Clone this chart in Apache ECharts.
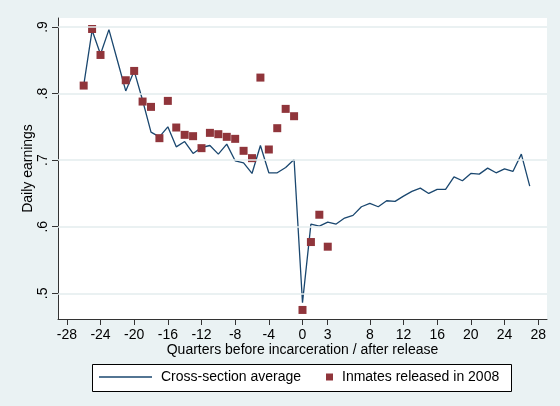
<!DOCTYPE html>
<html>
<head>
<meta charset="utf-8">
<script src="https://cdn.jsdelivr.net/npm/echarts@6/dist/echarts.min.js"></script>
<style>
  html, body { margin: 0; padding: 0; background: #eaf2f3; }
  #chart { width: 560px; height: 406px; }
</style>
</head>
<body>
<div id="chart"></div>
<script>
// quarters relative to incarceration (negative) / release (positive)
const avgQuarters = [-26, -25, -24, -23, -22, -21, -20, -19, -18, -17, -16, -15, -14, -13, -12, -11, -10, -9, -8, -7, -6, -5, -4, -3, -2, -1,
  0, 1, 2, 3, 4, 5, 6, 7, 8, 9, 10, 11, 12, 13, 14, 15, 16, 17, 18, 19, 20, 21, 22, 23, 24, 25, 26, 27];
const avgEarnings = [.812, .895, .859, .896, .850, .804, .834, .790, .742, .735, .750, .720, .728, .710, .719, .722, .709, .724, .699, .696, .680, .722, .681, .681, .689, .701,
  .486, .604, .601, .607, .604, .613, .617, .630, .635, .630, .639, .638, .646, .653, .658, .650, .656, .656, .675, .669, .680, .679, .688, .681, .687, .683, .709, .661];

const inmQuarters = [-26, -25, -24, -21, -20, -19, -18, -17, -16, -15, -14, -13, -12, -11, -10, -9, -8, -7, -6, -5, -4, -3, -2, -1, 0, 1, 2, 3];
const inmEarnings = [.812, .897, .858, .820, .834, .788, .780, .733, .789, .749, .738, .736, .718, .741, .739, .735, .732, .714, .703, .824, .716, .748, .777, .766, .475, .577, .618, .570];

const xTicks = [-28, -24, -20, -16, -12, -8, -4, 0, 3, 8, 12, 16, 20, 24, 28];
const yTicks = [.5, .6, .7, .8, .9];

const seriesNames = ['Cross-section average', 'Inmates released in 2008'];

const font = '"Liberation Sans", Arial, Helvetica, sans-serif';
const navy = '#1a476f';
const maroon = '#90353b';
const gridCol = '#e3ecee';

let chart = echarts.init(document.getElementById('chart'));

chart.setOption({
    backgroundColor: '#eaf2f3',
    animation: false,
    textStyle: { fontFamily: font },
    grid: {
        left: 58, right: 13, top: 18, bottom: 87,
        show: true, backgroundColor: '#ffffff', borderWidth: 0
    },
    xAxis: {
        type: 'value',
        min: -29.05, max: 29.05,
        name: 'Quarters before incarceration / after release',
        nameLocation: 'middle',
        nameGap: 24,
        nameMoveOverlap: false,
        nameTextStyle: { fontSize: 14, color: '#000', fontFamily: font },
        axisLine: { show: true, onZero: false, lineStyle: { color: '#333', width: 1 } },
        axisTick: { show: true, length: 6, customValues: xTicks, lineStyle: { color: '#333' } },
        axisLabel: { customValues: xTicks, fontSize: 14, color: '#000', margin: 9, fontFamily: font },
        splitLine: { show: false }
    },
    yAxis: {
        type: 'value',
        min: 0.4614, max: 0.9135,
        name: 'Daily earnings',
        nameLocation: 'middle',
        nameRotate: 90,
        nameGap: 23,
        nameMoveOverlap: false,
        nameTextStyle: { fontSize: 14, color: '#000', fontFamily: font },
        axisLine: { show: true, onZero: false, lineStyle: { color: '#333', width: 1 } },
        axisTick: { show: true, length: 6, customValues: yTicks, lineStyle: { color: '#333' } },
        axisLabel: {
            customValues: yTicks, rotate: 90, fontSize: 14, color: '#000', margin: 8, fontFamily: font,
            formatter: v => v.toFixed(1).replace(/^0/, '')
        },
        splitLine: { show: false }
    },
    legend: [{
        data: [{ name: seriesNames[0], icon: 'rect' }],
        left: 99, top: 370,
        padding: 0,
        itemWidth: 53, itemHeight: 1.4,
        textStyle: { fontSize: 14, color: '#000', fontFamily: font, padding: [0, 0, 0, 4] }
    }, {
        data: [{ name: seriesNames[1], icon: 'rect' }],
        left: 326, top: 370,
        padding: 0,
        itemWidth: 7, itemHeight: 7,
        textStyle: { fontSize: 14, color: '#000', fontFamily: font, padding: [0, 0, 0, 4] }
    }],
    graphic: [{
        type: 'rect',
        left: 92, top: 364, z: -1,
        shape: { width: 419, height: 27 },
        style: { fill: '#fff', stroke: '#000', lineWidth: 1 }
    }],
    series: [{
        // gridlines at the y ticks
        type: 'line',
        data: [],
        silent: true,
        markLine: {
            silent: true,
            symbol: 'none',
            label: { show: false },
            lineStyle: { color: gridCol, type: 'solid', width: 1.5 },
            data: yTicks.map(v => ({ yAxis: v }))
        },
        z: 1
    }, {
        name: seriesNames[0],
        type: 'line',
        data: avgQuarters.map((q, i) => [q, avgEarnings[i]]),
        showSymbol: false,
        symbol: 'none',
        lineStyle: { color: navy, width: 1.3 },
        itemStyle: { color: navy },
        z: 3
    }, {
        name: seriesNames[1],
        type: 'scatter',
        data: inmQuarters.map((q, i) => [q, inmEarnings[i]]),
        symbol: 'rect',
        symbolSize: 8,
        itemStyle: { color: maroon, opacity: 1 },
        z: 4
    }]
});
</script>
</body>
</html>
